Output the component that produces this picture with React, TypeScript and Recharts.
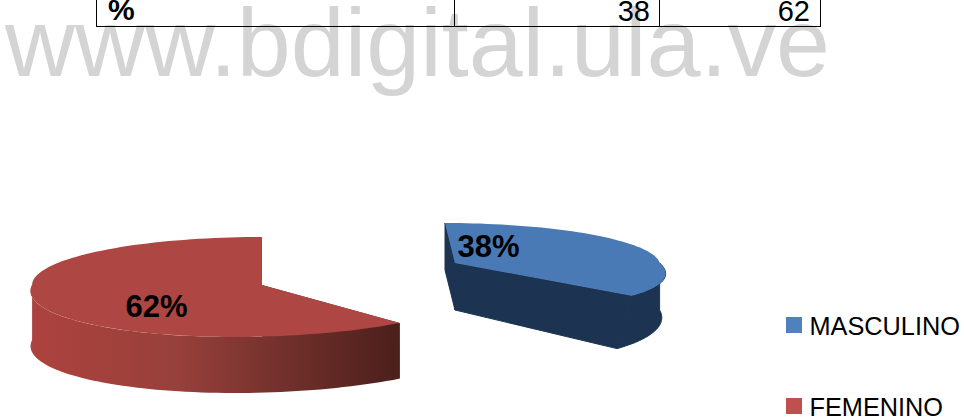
import React from "react";
import { Legend, Pie, PieChart } from "recharts";

const categories = ["MASCULINO", "FEMENINO"];
const percentages = [38, 62];

const WIDTH = 964;
const HEIGHT = 420;
const FONT = '"Liberation Sans", Arial, sans-serif';

// Look of each slice: explode offset plus the tilted top and bottom outlines
const sliceStyles = [
  {
    fill: "#4a7ab6",
    legendFill: "#4f81bd",
    dx: 95,
    dy: -12,
    rxScale: 0.93,
    depth: 47,
    top: { ryBack: 40, ryFront: 45, skewBack: -10, skewFront: -50 },
    bottom: { ryBack: 40, ryFront: 53, skewBack: -10, skewFront: -30 },
    side: "#1c3452",
    seam: 1,
    wallStops: ["#1c3452", "#1c3452", "#1c3452"],
    labelDx: 33.5,
    labelDy: -6,
  },
  {
    fill: "#ae4643",
    legendFill: "#c0504d",
    dx: -98,
    dy: 10,
    rxScale: 1.045,
    depth: 55,
    top: { ryBack: 48, ryFront: 52, skewBack: 0, skewFront: 27 },
    bottom: { ryBack: 48, ryFront: 53, skewBack: 0, skewFront: 27 },
    side: "#6a2b27",
    seam: 0,
    wallStops: ["#ad423e", "#97403b", "#4b1f1b"],
    labelDx: -105.5,
    labelDy: 32,
  },
];

const pieData = categories.map((name, i) => ({
  name,
  value: percentages[i],
  fill: sliceStyles[i].legendFill,
}));

type Outline = { ryBack: number; ryFront: number; skewBack: number; skewFront: number };

// Squash a point of the flat circle onto the tilted plane
function project(ox: number, oy: number, rx: number, o: Outline, deg: number) {
  const a = (deg * Math.PI) / 180;
  const c = Math.cos(a);
  const s = Math.sin(a);
  const back = s > 0;
  return [ox + rx * c + (back ? o.skewBack : o.skewFront) * s, oy - (back ? o.ryBack : o.ryFront) * s];
}

function arcPoints(ox: number, oy: number, rx: number, o: Outline, from: number, to: number) {
  const steps = Math.max(2, Math.ceil(Math.abs(to - from) / 2));
  const pts: number[][] = [];
  for (let i = 0; i <= steps; i++) pts.push(project(ox, oy, rx, o, from + ((to - from) * i) / steps));
  return pts;
}

const toPath = (pts: number[][]) => "M" + pts.map((p) => `${p[0].toFixed(1)},${p[1].toFixed(1)}`).join("L") + "Z";

function TiltedSlice(props: any) {
  const { cx, cy, outerRadius, startAngle, endAngle, index } = props;
  const st = sliceStyles[index];
  const ox = cx + st.dx;
  const oy = cy + st.dy;
  const rx = outerRadius * st.rxScale;
  const floor = oy + st.depth;

  const radial = (deg: number) => {
    const t = project(ox, oy, rx, st.top, deg);
    const b = project(ox, floor, rx, st.bottom, deg);
    return toPath([[ox, oy], t, b, [ox, floor]]);
  };

  // the outer wall only shows along the front half of the rim
  const hi = Math.min(0, Math.max(startAngle, endAngle));
  const lo = Math.max(-180, Math.min(startAngle, endAngle));
  const wall = toPath([
    ...arcPoints(ox, oy, rx, st.top, hi, lo),
    ...arcPoints(ox, floor, rx, st.bottom, lo, hi),
  ]);
  const face = toPath([[ox, oy], ...arcPoints(ox, oy, rx, st.top, startAngle, endAngle)]);
  const gradId = `wall-${index}`;

  return (
    <g>
      <defs>
        <linearGradient id={gradId} x1="0" y1="0" x2="1" y2="0">
          <stop offset="0" stopColor={st.wallStops[0]} />
          <stop offset="0.4" stopColor={st.wallStops[1]} />
          <stop offset="1" stopColor={st.wallStops[2]} />
        </linearGradient>
      </defs>
      <path d={radial(startAngle)} fill={st.side} stroke={st.side} strokeWidth={st.seam} />
      <path d={radial(endAngle)} fill={st.side} stroke={st.side} strokeWidth={st.seam} />
      <path d={wall} fill={`url(#${gradId})`} stroke={st.side} strokeWidth={st.seam} />
      <path d={face} fill={st.fill} />
    </g>
  );
}

function SliceLabel(props: any) {
  const { cx, cy, index, value } = props;
  const st = sliceStyles[index];
  return (
    <text
      x={cx + st.dx + st.labelDx}
      y={cy + st.dy + st.labelDy}
      textAnchor="middle"
      fontFamily={FONT}
      fontWeight="bold"
      fontSize={31}
      fill="#000"
    >
      {value}%
    </text>
  );
}

function LegendRows() {
  return (
    <div style={{ fontFamily: FONT, fontSize: 25.3, color: "#000" }}>
      {pieData.map((d, i) => (
        <div key={d.name} style={{ position: "absolute", left: 0, top: i * 81, height: 30, whiteSpace: "nowrap" }}>
          <span
            style={{
              position: "absolute",
              left: 0,
              top: 7,
              width: 16,
              height: 16,
              background: sliceStyles[i].legendFill,
            }}
          />
          <span style={{ position: "absolute", left: 23.5, top: 1, lineHeight: "30px" }}>{d.name}</span>
        </div>
      ))}
    </div>
  );
}

export default function App() {
  return (
    <div style={{ position: "absolute", left: 0, top: 0, width: WIDTH, height: HEIGHT, background: "#fff", overflow: "hidden" }}>
      {/* tail of the data table and the site watermark behind the chart */}
      <svg width={WIDTH} height={HEIGHT} style={{ position: "absolute", left: 0, top: 0 }}>
        <text x={5} y={76} fontFamily={FONT} fontSize={97} fill="#d4d4d4">
          www.bdigital.ula.ve
        </text>
        <g stroke="#000" strokeWidth={1}>
          <line x1={96.5} y1={0} x2={96.5} y2={26.5} />
          <line x1={454.5} y1={0} x2={454.5} y2={26.5} />
          <line x1={659.5} y1={0} x2={659.5} y2={26.5} />
          <line x1={820.5} y1={0} x2={820.5} y2={26.5} />
          <line x1={96} y1={26.5} x2={821} y2={26.5} />
        </g>
        <g fontFamily={FONT} fontSize={29} fill="#000">
          <text x={108} y={20} fontWeight="bold" fontSize={30}>%</text>
          <text x={650} y={21} textAnchor="end">{percentages[0]}</text>
          <text x={810} y={21} textAnchor="end">{percentages[1]}</text>
        </g>
      </svg>
      <div style={{ position: "absolute", left: 0, top: 0 }}>
        <PieChart width={WIDTH} height={HEIGHT} margin={{ top: 0, right: 0, bottom: 0, left: 0 }}>
          <Pie
            data={pieData}
            dataKey="value"
            nameKey="name"
            cx={360}
            cy={275}
            outerRadius={220}
            startAngle={90}
            endAngle={-270}
            paddingAngle={0}
            stroke="none"
            shape={TiltedSlice}
            label={SliceLabel}
            labelLine={false}
            isAnimationActive={false}
          />
          <Legend
            layout="vertical"
            align="right"
            verticalAlign="top"
            content={<LegendRows />}
            wrapperStyle={{ position: "absolute", left: 786, top: 310, width: 178, height: 110 }}
          />
        </PieChart>
      </div>
    </div>
  );
}
